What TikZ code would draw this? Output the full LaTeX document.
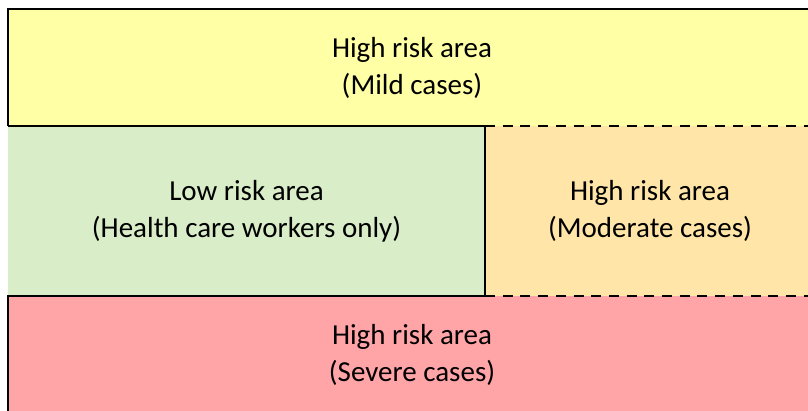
\documentclass[tikz,border=0pt]{standalone}
\usepackage{fontspec}
\setmainfont{Carlito}
\definecolor{cyellow}{HTML}{FFFFA6}
\definecolor{cgreen}{HTML}{D9EDC8}
\definecolor{corange}{HTML}{FFE6A8}
\definecolor{cred}{HTML}{FFA5A8}
\tikzset{
  area/.style={inner sep=0pt, outer sep=0pt, align=center, font=\fontsize{29}{37}\selectfont},
  border/.style={line width=2pt, black},
  dashborder/.style={line width=2pt, black, dash pattern=on 10pt off 7.7pt},
}
\begin{document}
\begin{tikzpicture}[x=1pt,y=-1pt]
\useasboundingbox (0,0) rectangle (808,410);
\fill[white] (0,0) rectangle (808,410);
\node[area, fill=cyellow, minimum width=808pt, minimum height=117pt] (top) at (412,67.5) {High risk area\\(Mild cases)};
\node[area, fill=cgreen, minimum width=477pt, minimum height=170pt] (low) at (246.5,211) {Low risk area\\(Health care workers only)};
\node[area, fill=corange, minimum width=330pt, minimum height=170pt] (mod) at (650,211) {High risk area\\(Moderate cases)};
\node[area, fill=cred, minimum width=808pt, minimum height=117pt] (sev) at (412,354.5) {High risk area\\(Severe cases)};
% borders
\draw[border] (top.south west) -- (top.north west) -- (top.north east);
\draw[border] (top.south west) -- (low.north east);
\draw[border] (low.north east) -- (low.south east);
\draw[border] (sev.south west) -- (sev.north west) -- (low.south east);
\draw[dashborder] (mod.north west) -- (mod.north east);
\draw[dashborder] (mod.south west) -- (mod.south east);
\end{tikzpicture}
\end{document}
